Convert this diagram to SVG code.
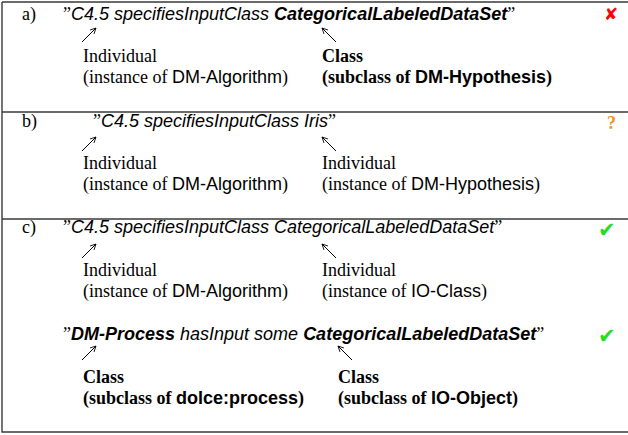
<svg xmlns="http://www.w3.org/2000/svg" width="628" height="435" viewBox="0 0 628 435">
<style>
.serif{font-family:"Liberation Serif","Times New Roman",serif;font-size:18px;fill:#000}
.sans{font-family:"Liberation Sans",Arial,sans-serif}
.st{font-family:"Liberation Sans",Arial,sans-serif;font-size:18px;font-style:italic;fill:#000}
.b{font-weight:bold}
.q{font-family:"Liberation Serif","Times New Roman",serif;font-style:normal;font-weight:normal}
.rule{stroke:#3a3a3a;stroke-width:1.4;fill:none}
.arr{stroke:#000;stroke-width:1;fill:none;marker-end:url(#ah)}
.mark{font-family:"DejaVu Sans",sans-serif;font-weight:bold}
.x{font-size:17px;fill:#ff0000}
.ok{font-size:21px;fill:#22dd22}
.qm{font-family:"Liberation Serif","Times New Roman",serif;font-size:18px;font-weight:bold;fill:#f7901e}
</style>
<defs>
<marker id="ah" viewBox="0 0 10 10" refX="9" refY="5" markerWidth="7" markerHeight="7" orient="auto" markerUnits="userSpaceOnUse">
<path d="M1,1 L9,5 L1,9" fill="none" stroke="#000" stroke-width="1.2"/>
</marker>
</defs>
<rect width="628" height="435" fill="#fff"/>
<g id="table">
<path class="rule" d="M2,2 H628 M2,2 V432 H628 M2,112 H628 M2,219 H628"/>
</g>
<g id="connectors">
<line class="arr" x1="82" y1="42" x2="96" y2="28"/>
<line class="arr" x1="336" y1="42" x2="322" y2="28"/>
<line class="arr" x1="82" y1="151" x2="96" y2="137"/>
<line class="arr" x1="336" y1="151" x2="322" y2="137"/>
<line class="arr" x1="82" y1="258" x2="96" y2="244"/>
<line class="arr" x1="336" y1="258" x2="322" y2="244"/>
<line class="arr" x1="82" y1="360" x2="96" y2="346"/>
<line class="arr" x1="352" y1="360" x2="338" y2="346"/>
</g>
<g id="row-a">
<text class="serif" x="22" y="20">a)</text>
<text class="st" x="63" y="20"><tspan class="q">”</tspan>C4.5 specifiesInputClass <tspan class="b">CategoricalLabeledDataSet</tspan><tspan class="q">”</tspan></text>
<text class="mark x" x="604" y="20">✘</text>
</g>
<g id="a-individual">
<text class="serif" x="83" y="62">Individual</text>
<text class="serif" x="83" y="83">(instance of <tspan class="sans">DM-Algorithm</tspan>)</text>
</g>
<g id="a-class">
<text class="serif b" x="322" y="62">Class</text>
<text class="serif b" x="322" y="83">(subclass of <tspan class="sans">DM-Hypothesis</tspan>)</text>
</g>
<g id="row-b">
<text class="serif" x="22" y="127">b)</text>
<text class="st" x="93" y="127"><tspan class="q">”</tspan>C4.5 specifiesInputClass Iris<tspan class="q">”</tspan></text>
<text class="qm" x="607" y="129">?</text>
</g>
<g id="b-individual1">
<text class="serif" x="83" y="169">Individual</text>
<text class="serif" x="83" y="190">(instance of <tspan class="sans">DM-Algorithm</tspan>)</text>
</g>
<g id="b-individual2">
<text class="serif" x="322" y="169">Individual</text>
<text class="serif" x="322" y="190">(instance of <tspan class="sans">DM-Hypothesis</tspan>)</text>
</g>
<g id="row-c">
<text class="serif" x="22" y="233">c)</text>
<text class="st" x="63" y="233"><tspan class="q">”</tspan>C4.5 specifiesInputClass CategoricalLabeledDataSet<tspan class="q">”</tspan></text>
<text class="mark ok" x="598" y="237">✔</text>
</g>
<g id="c-individual1">
<text class="serif" x="83" y="276">Individual</text>
<text class="serif" x="83" y="297">(instance of <tspan class="sans">DM-Algorithm</tspan>)</text>
</g>
<g id="c-individual2">
<text class="serif" x="322" y="276">Individual</text>
<text class="serif" x="322" y="297">(instance of <tspan class="sans">IO-Class</tspan>)</text>
</g>
<g id="row-c2">
<text class="st" x="63" y="340"><tspan class="q">”</tspan><tspan class="b">DM-Process</tspan> hasInput some <tspan class="b">CategoricalLabeledDataSet</tspan><tspan class="q">”</tspan></text>
<text class="mark ok" x="598" y="343">✔</text>
</g>
<g id="c2-class1">
<text class="serif b" x="83" y="383">Class</text>
<text class="serif b" x="83" y="404">(subclass of <tspan class="sans">dolce:process</tspan>)</text>
</g>
<g id="c2-class2">
<text class="serif b" x="338" y="383">Class</text>
<text class="serif b" x="338" y="404">(subclass of <tspan class="sans">IO-Object</tspan>)</text>
</g>
</svg>
